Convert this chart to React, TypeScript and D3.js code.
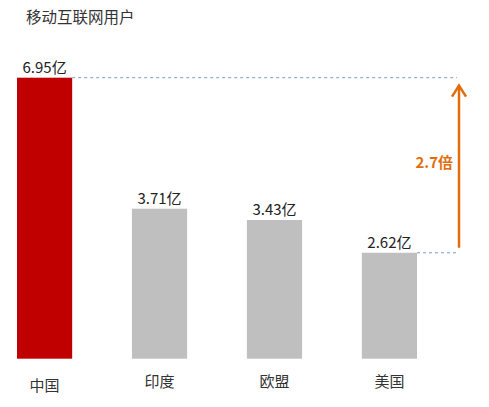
import React from "react";
import * as d3 from "d3";

const categories = ["中国", "印度", "欧盟", "美国"];
const users = [6.95, 3.71, 3.43, 2.62];
const valueLabels = ["6.95亿", "3.71亿", "3.43亿", "2.62亿"];
const title = "移动互联网用户";
const ratioLabel = "2.7倍";

const W = 489;
const H = 407;
const FONT = "'Microsoft YaHei', 'Noto Sans CJK SC', sans-serif";

export default function App() {
	const x = d3.scaleBand<string>().domain(categories).range([17, 417]).paddingInner(0.52).paddingOuter(0);
	const y = d3.scaleLinear().domain([0, d3.max(users) as number]).range([358.7, 77.7]);

	const maxV = d3.max(users) as number;
	const minV = d3.min(users) as number;
	const first = categories[users.indexOf(maxV)];
	const last = categories[users.indexOf(minV)];
	const arrowX = 459;

	return (
		<svg
			width={W}
			height={H}
			style={{ position: "absolute", left: 0, top: 0, background: "#fff" }}
			fontFamily={FONT}
		>
			<text x={26} y={23} fontSize={15.5} fill="#333">
				{title}
			</text>

			{categories.map((c, i) => (
				<g key={c}>
					<rect
						x={x(c)}
						y={y(users[i])}
						width={x.bandwidth()}
						height={y(0) - y(users[i])}
						fill={i === 0 ? "#c00000" : "#bfbfbf"}
					/>
					<text
						x={(x(c) as number) + x.bandwidth() / 2}
						y={y(users[i]) - 5}
						textAnchor="middle"
						fontSize={15}
						fill="#222"
					>
						{valueLabels[i]}
					</text>
					<text
						x={(x(c) as number) + x.bandwidth() / 2}
						y={i === 0 ? 391 : 387}
						textAnchor="middle"
						fontSize={15}
						fill="#333"
					>
						{c}
					</text>
				</g>
			))}

			{/* reference lines */}
			<line
				x1={(x(first) as number) + x.bandwidth()}
				x2={arrowX - 2}
				y1={y(maxV)}
				y2={y(maxV)}
				stroke="#7f9cc6"
				strokeWidth={1}
				strokeDasharray="3,3"
			/>
			<line
				x1={(x(last) as number) + x.bandwidth()}
				x2={arrowX - 2}
				y1={y(minV)}
				y2={y(minV)}
				stroke="#7f9cc6"
				strokeWidth={1}
				strokeDasharray="3,3"
			/>

			{/* arrow */}
			<line x1={arrowX} x2={arrowX} y1={y(minV) - 5} y2={y(maxV) + 8} stroke="#e36c0a" strokeWidth={2.5} />
			<path
				d={`M${arrowX - 7},${y(maxV) + 19} L${arrowX},${y(maxV) + 8} L${arrowX + 7},${y(maxV) + 19}`}
				fill="none"
				stroke="#e36c0a"
				strokeWidth={2.5}
				strokeLinejoin="miter"
			/>
			<text
				x={arrowX - 6}
				y={(y(maxV) + y(minV)) / 2 + 3}
				textAnchor="end"
				fontSize={15}
				fontWeight="bold"
				fill="#e36c0a"
			>
				{ratioLabel}
			</text>
		</svg>
	);
}
